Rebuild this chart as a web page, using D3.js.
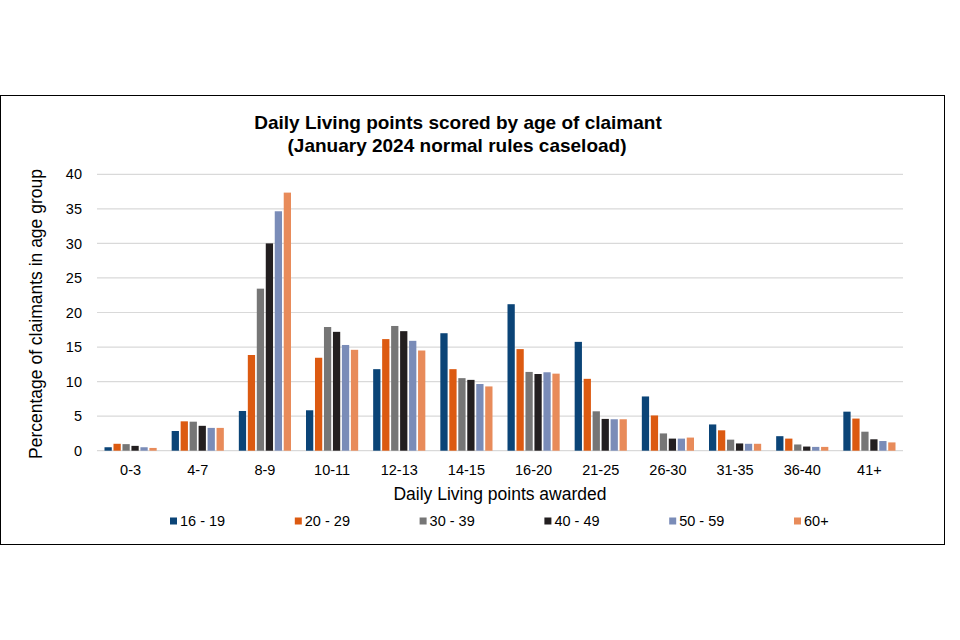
<!DOCTYPE html>
<html>
<head>
<meta charset="utf-8">
<script src="https://cdn.jsdelivr.net/npm/d3@7"></script>
<style>
  body { margin: 0; background: white; }
  text { font-family: "Liberation Sans", Arial, sans-serif; fill: #000; }
</style>
</head>
<body>
<svg id="canvas"></svg>
<script>
// categories, series and values
let categories = ["0-3", "4-7", "8-9", "10-11", "12-13", "14-15", "16-20", "21-25", "26-30", "31-35", "36-40", "41+"];
let seriesNames = ["16 - 19", "20 - 29", "30 - 39", "40 - 49", "50 - 59", "60+"];

let age16to19 = [0.5, 2.85, 5.75, 5.85, 11.8, 17.0, 21.2, 15.75, 7.85, 3.8, 2.1, 5.65];
let age20to29 = [1.0, 4.25, 13.85, 13.45, 16.15, 11.8, 14.7, 10.4, 5.1, 2.95, 1.75, 4.65];
let age30to39 = [0.95, 4.2, 23.45, 17.9, 18.05, 10.5, 11.4, 5.7, 2.5, 1.6, 0.9, 2.75];
let age40to49 = [0.7, 3.6, 30.0, 17.2, 17.3, 10.25, 11.1, 4.6, 1.75, 1.05, 0.6, 1.65];
let age50to59 = [0.5, 3.3, 34.65, 15.3, 15.9, 9.65, 11.35, 4.55, 1.75, 1.0, 0.55, 1.4];
let age60plus = [0.4, 3.3, 37.35, 14.6, 14.5, 9.3, 11.15, 4.55, 1.9, 1.0, 0.55, 1.2];

let yTicks = [0, 5, 10, 15, 20, 25, 30, 35, 40];

let colors = ["#0b4477", "#dc5a11", "#767676", "#231f20", "#7a8cb8", "#e88b5a"];

let allSeries = [age16to19, age20to29, age30to39, age40to49, age50to59, age60plus];

let width = 960;
let height = 640;

let plotLeft = 97;
let plotRight = 903;
let plotTop = 174.3;
let plotBottom = 450.7;

let canvas = d3.select("#canvas");
canvas.attr("width", width)
canvas.attr("height", height)

// frame round the chart
canvas.append("rect")
      .attr("x", 0.5)
      .attr("y", 95.5)
      .attr("width", 944)
      .attr("height", 449)
      .attr("fill", "white")
      .attr("stroke", "#000")
      .attr("stroke-width", 1)

let xScale = d3.scaleBand()
               .domain(categories)
               .range([plotLeft, plotRight])

let groupPad = 7.5;
let x1Scale = d3.scaleBand()
                .domain(seriesNames)
                .range([groupPad, xScale.bandwidth() - groupPad])
                .paddingInner(0.19)

let yScale = d3.scaleLinear()
               .domain([0, 40])
               .range([plotBottom, plotTop])

let drawGrid = () => {
    canvas.append("g")
          .selectAll("line")
          .data(yTicks)
          .enter()
          .append("line")
          .attr("x1", plotLeft)
          .attr("x2", plotRight)
          .attr("y1", (d) => yScale(d))
          .attr("y2", (d) => yScale(d))
          .attr("stroke", "#d9d9d9")
          .attr("stroke-width", 1.2)
}

let drawBars = () => {
    let groups = canvas.append("g")
                       .selectAll("g")
                       .data(categories)
                       .enter()
                       .append("g")
                       .attr("transform", (d) => "translate(" + xScale(d) + ",0)")

    groups.selectAll("rect")
          .data((d, i) => seriesNames.map((s, j) => ({ series: s, value: allSeries[j][i], idx: j })))
          .enter()
          .append("rect")
          .attr("x", (d) => x1Scale(d.series))
          .attr("width", x1Scale.bandwidth())
          .attr("y", (d) => yScale(d.value))
          .attr("height", (d) => yScale(0) - yScale(d.value))
          .attr("fill", (d) => colors[d.idx])
}

let drawAxes = () => {
    let yAxis = d3.axisLeft(yScale)
                  .tickValues(yTicks)
                  .tickSize(0)
                  .tickPadding(0)

    let yG = canvas.append("g")
                   .attr("transform", "translate(" + 82 + ",0)")
                   .call(yAxis)
    yG.select(".domain").remove()
    yG.selectAll("text")
      .style("font-family", "'Liberation Sans', Arial, sans-serif")
      .style("font-size", "14.5px")
      .attr("fill", "#000")

    let xAxis = d3.axisBottom(xScale)
                  .tickSize(0)
                  .tickPadding(0)

    let xG = canvas.append("g")
                   .attr("transform", "translate(0," + plotBottom + ")")
                   .call(xAxis)
    xG.select(".domain").remove()
    xG.selectAll("text")
      .attr("dy", null)
      .attr("y", 24.5)
      .style("font-family", "'Liberation Sans', Arial, sans-serif")
      .style("font-size", "14.5px")
      .attr("fill", "#000")

    canvas.append("text")
          .attr("x", (plotLeft + plotRight) / 2)
          .attr("y", 499.5)
          .attr("text-anchor", "middle")
          .style("font-size", "17.5px")
          .text("Daily Living points awarded")

    canvas.append("text")
          .attr("transform", "translate(42,314) rotate(-90)")
          .attr("text-anchor", "middle")
          .style("font-size", "17.5px")
          .text("Percentage of claimants in age group")
}

let drawTitle = () => {
    canvas.append("text")
          .attr("x", 458)
          .attr("y", 129)
          .attr("text-anchor", "middle")
          .style("font-size", "19px")
          .style("font-weight", "bold")
          .text("Daily Living points scored by age of claimant")

    canvas.append("text")
          .attr("x", 457)
          .attr("y", 152)
          .attr("text-anchor", "middle")
          .style("font-size", "19px")
          .style("font-weight", "bold")
          .text("(January 2024 normal rules caseload)")
}

let drawLegend = () => {
    let legend = canvas.append("g")
                       .selectAll("g")
                       .data(seriesNames)
                       .enter()
                       .append("g")
                       .attr("transform", (d, i) => "translate(" + (170 + i * 124.8) + ",521)")

    legend.append("rect")
          .attr("x", 0)
          .attr("y", -3.5)
          .attr("width", 7)
          .attr("height", 7)
          .attr("fill", (d, i) => colors[i])

    legend.append("text")
          .attr("x", 10)
          .attr("y", 5)
          .style("font-size", "14.5px")
          .text((d) => d)
}

drawGrid();
drawBars();
drawAxes();
drawTitle();
drawLegend();
</script>
</body>
</html>
